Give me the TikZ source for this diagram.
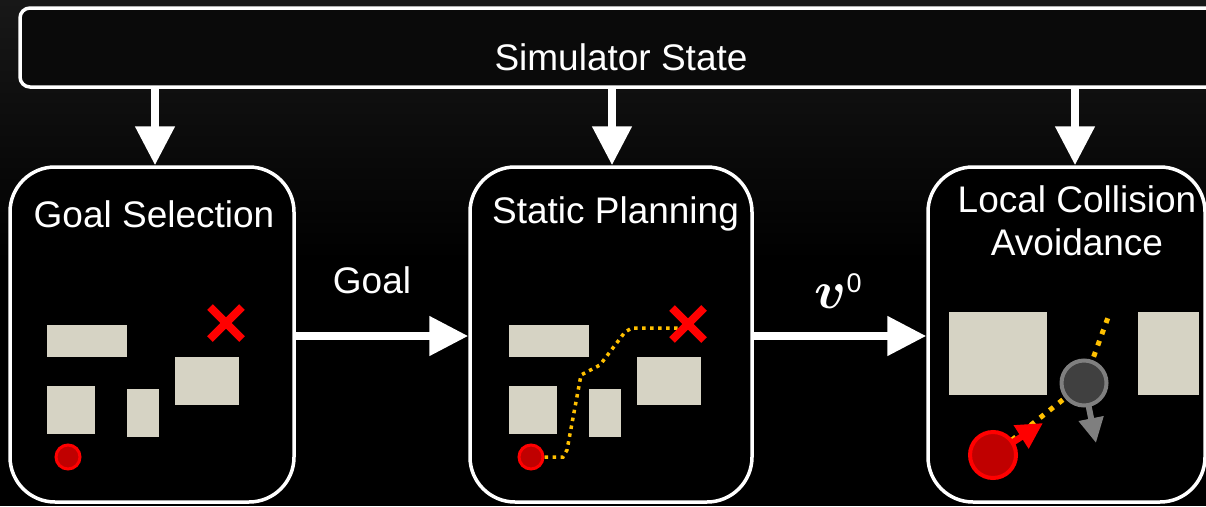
\documentclass[tikz,border=0pt]{standalone}
\usepackage{fontspec}
\setmainfont{Liberation Sans}
\usepackage{bm}
\usepackage{graphicx}
\usetikzlibrary{arrows.meta}
\definecolor{obst}{RGB}{214,211,196}
\definecolor{pathc}{RGB}{255,192,0}
\definecolor{dred}{RGB}{192,0,0}
\definecolor{bred}{RGB}{255,0,0}
\definecolor{dgrey}{RGB}{64,64,64}
\definecolor{mgrey}{RGB}{127,127,127}
\definecolor{bgtop}{RGB}{24,24,24}
\definecolor{simfill}{RGB}{10,10,10}
\begin{document}
\begin{tikzpicture}[x=1pt,y=-1pt,
  txt/.style={text=white, font=\fontsize{37}{43}\selectfont, inner sep=0pt, align=center},
  panel/.style={draw=white, line width=3.5pt, fill=black, rounded corners=45pt,
    minimum height=335pt, inner sep=0pt},
  simbox/.style={draw=white, line width=3.5pt, fill=simfill, rounded corners=10pt,
    minimum width=1210pt, minimum height=79pt, inner sep=0pt},
  bigarrow/.style={draw=white, line width=8pt, -{Triangle[width=38pt,length=39pt]}},
  obstacle/.style={fill=obst},
  goalx/.style={draw=bred, line width=8pt},
  agent/.style={circle, fill=dred, draw=bred, inner sep=0pt},
  other/.style={circle, fill=dgrey, draw=mgrey, inner sep=0pt},
  plan/.style={draw=pathc, line width=3.5pt, dash pattern=on 3.5pt off 4.5pt},
  cplan/.style={draw=pathc, line width=5pt, dash pattern=on 5pt off 7pt},
  redarrow/.style={draw=bred, line width=6.5pt, -{Triangle[width=26pt,length=26pt]}},
  greyarrow/.style={draw=mgrey, line width=6pt, -{Triangle[width=24pt,length=25pt]}}
]
\useasboundingbox (0,0) rectangle (1206,506);
\clip (0,0) rectangle (1206,506);
\fill[black] (0,0) rectangle (1206,506);
\shade[top color=bgtop, bottom color=black] (0,0) rectangle (1206,260);

% top box
\node[simbox] (sim) at (625,47.5) {};
\node[txt, anchor=base] (simtxt) at (621,70) {Simulator State};

% panels
\node[panel, minimum width=284pt] (gs) at (152,334.5) {};
\node[panel, minimum width=282pt] (sp) at (611,334.5) {};
\node[panel, minimum width=277pt] (lca) at (1066.5,334.5) {};

\node[txt, anchor=base] (gstxt) at (154,227) {Goal Selection};
\node[txt, anchor=base] (sptxt) at (615.5,223) {Static Planning};
\node[txt, anchor=base] (lcatxt) at (1077,212) {Local Collision};
\node[txt, anchor=base] (lcatxt2) at (1077,255) {Avoidance};

% vertical arrows
\draw[bigarrow] ([xshift=3pt]gs.north |- sim.south) -- ([xshift=3pt]gs.north);
\draw[bigarrow] ([xshift=1pt]sp.north |- sim.south) -- ([xshift=1pt]sp.north);
\draw[bigarrow] ([xshift=8.5pt]lca.north |- sim.south) -- ([xshift=8.5pt]lca.north);

% horizontal arrows
\draw[bigarrow] ([yshift=-1.5pt]gs.east) -- ([yshift=-1.5pt]sp.west);
\draw[bigarrow] ([yshift=-1.5pt]sp.east) -- ([yshift=-1.5pt]lca.west);
\node[txt, anchor=base] (goallbl) at (372,293) {Goal};
\node[txt, anchor=base, text=white] (vlbl) at (838,308)
  {{\fontsize{10}{12}\selectfont\scalebox{5.3}{$\bm{v}$}}{\fontsize{27}{27}\selectfont\raisebox{16pt}{0}}};

% Goal selection scene
\fill[obstacle] (47,325) rectangle (127,357);
\fill[obstacle] (47,386) rectangle (95,434);
\fill[obstacle] (127,389) rectangle (159,437);
\fill[obstacle] (175,357) rectangle (239,405);
\draw[goalx] (210,307) -- (242,339);
\draw[goalx] (210,339) -- (242,307);
\node[agent, line width=3pt, minimum size=24pt] (gsagent) at (68,457) {};

% Static planning scene
\fill[obstacle] (509,325) rectangle (589,357);
\fill[obstacle] (509,386) rectangle (557,434);
\fill[obstacle] (589,389) rectangle (621,437);
\fill[obstacle] (637,357) rectangle (701,405);
\coordinate (spgoal) at (688,324);
\coordinate (spend) at (686,328);
\node[agent, line width=3pt, minimum size=24pt] (spagent) at (531,457) {};
\draw[plan] (spagent.east) -- (563,457) -- (567,450) -- (581,375) -- (600,365)
  -- (625,332) -- (632,328) -- (spend);
\draw[goalx] ([shift={(-16,-16)}]spgoal) -- ([shift={(16,16)}]spgoal);
\draw[goalx] ([shift={(-16,16)}]spgoal) -- ([shift={(16,-16)}]spgoal);

% Local collision avoidance scene
\fill[obstacle] (949,312) rectangle (1047,395);
\fill[obstacle] (1138,312) rectangle (1199,395);
\coordinate (lcaredc) at (993,455);
\coordinate (lcagreyc) at (1084,383);
\coordinate (lcatop) at (1110,312);
\coordinate (rtip) at (1043,423);
\coordinate (gtip) at (1096,443);
\draw[cplan] (lcaredc) -- (lcagreyc) -- (lcatop);
\draw[redarrow] (lcaredc) -- (rtip);
\draw[greyarrow] (lcagreyc) -- (gtip);
\node[other, line width=4pt, minimum size=45pt] (greyag) at (lcagreyc) {};
\node[agent, line width=4pt, minimum size=46pt] (redag) at (lcaredc) {};
\end{tikzpicture}
\end{document}
